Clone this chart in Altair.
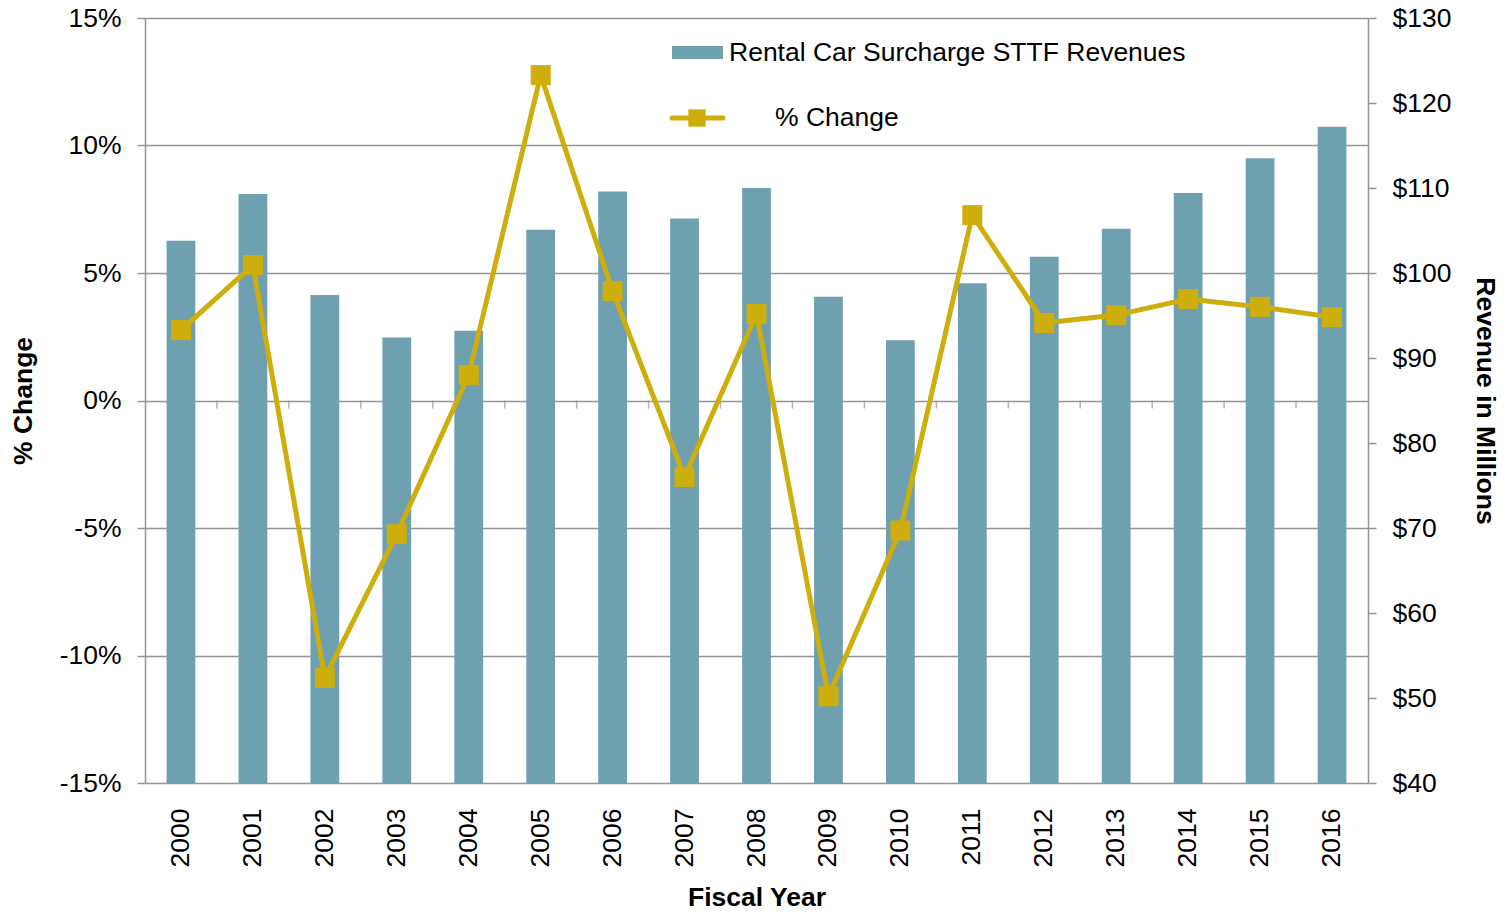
import altair as alt
import pandas as pd

years = [str(y) for y in range(2000, 2017)]
revenue = [103.8, 109.3, 97.4, 92.4, 93.2, 105.1, 109.6, 106.4, 110.0,
           97.2, 92.1, 98.8, 101.9, 105.2, 109.4, 113.5, 117.2]
pct_change = [2.76, 5.31, -10.88, -5.24, 1.0, 12.76, 4.29, -3.0, 3.39,
              -11.6, -5.1, 7.27, 3.04, 3.35, 3.98, 3.67, 3.27]

df = pd.DataFrame({"Fiscal Year": years, "Revenue": revenue, "Pct": pct_change})

BAR = "#6FA0B0"
GOLD = "#CDAE0C"
GRID = "#959595"
FONT = "Liberation Sans"
LFS = 26.5
TFS = 26.5

pct_scale = alt.Scale(domain=[-15, 15], nice=False)

xscale = alt.Scale(paddingInner=0, paddingOuter=0)
xenc = alt.X("Fiscal Year:N", scale=xscale,
             axis=alt.Axis(title="Fiscal Year", labelAngle=-90, ticks=False,
                           labelPadding=25, titlePadding=18, domain=False,
                           labelFontSize=LFS, titleFontSize=TFS, labelBaseline="middle",
                           labelAlign="right"))

bars = alt.Chart(df).mark_bar(width=alt.RelativeBandSize(0.4), color=BAR, clip=True).encode(
    x=xenc,
    y=alt.Y("Revenue:Q", scale=alt.Scale(domain=[40, 130], nice=False, zero=False),
            axis=alt.Axis(orient="right", title="Revenue in Millions",
                          values=list(range(40, 131, 10)),
                          labelExpr="'$' + datum.value", grid=False,
                          tickSize=8, tickColor=GRID, domainColor=GRID,
                          domainWidth=1.5, tickWidth=1.5,
                          labelPadding=16, titlePadding=20,
                          labelFontSize=LFS, titleFontSize=TFS)),
)

yleft = alt.Y("Pct:Q", scale=pct_scale,
              axis=alt.Axis(orient="left", title="% Change",
                            values=list(range(-15, 16, 5)),
                            labelExpr="datum.value + '%'", grid=True,
                            gridColor=GRID, gridWidth=1.5,
                            tickSize=8, tickColor=GRID, domainColor=GRID,
                            domainWidth=1.5, tickWidth=1.5,
                            labelPadding=16, titlePadding=22,
                            labelFontSize=LFS, titleFontSize=TFS))

grid_layer = alt.Chart(df).mark_point(opacity=0).encode(x="Fiscal Year:N", y=yleft)

zero_ticks = alt.Chart(df[df["Fiscal Year"] != "2000"]).transform_calculate(
    zero="0"
).mark_tick(
    orient="vertical", size=8, thickness=1.5, color=GRID, yOffset=4
).encode(
    x=alt.X("Fiscal Year:N", bandPosition=0),
    y=alt.Y("zero:Q", scale=pct_scale, axis=None),
)

line = alt.Chart(df).mark_line(color=GOLD, strokeWidth=5).encode(
    x="Fiscal Year:N", y=alt.Y("Pct:Q", scale=pct_scale, axis=None)
)
points = alt.Chart(df).mark_point(shape="square", filled=True, size=400, color=GOLD, opacity=1).encode(
    x="Fiscal Year:N", y=alt.Y("Pct:Q", scale=pct_scale, axis=None)
)

one = pd.DataFrame({"k": [0]})
leg_rect = alt.Chart(one).mark_rect(color=BAR).encode(
    x=alt.value(527), x2=alt.value(578), y=alt.value(28), y2=alt.value(41))
leg_text1 = alt.Chart(one).mark_text(text="Rental Car Surcharge STTF Revenues", align="left",
                                     baseline="middle", fontSize=LFS, font=FONT, color="black").encode(
    x=alt.value(584), y=alt.value(35))
leg_line = alt.Chart(one).mark_rule(color=GOLD, strokeWidth=5, strokeCap="round").encode(
    x=alt.value(527), x2=alt.value(578), y=alt.value(100))
leg_sq = alt.Chart(one).mark_point(shape="square", filled=True, size=300, color=GOLD, opacity=1).encode(
    x=alt.value(552), y=alt.value(100))
leg_text2 = alt.Chart(one).mark_text(text="% Change", align="left", baseline="middle",
                                     fontSize=LFS, font=FONT, color="black").encode(
    x=alt.value(630), y=alt.value(100))

chart = alt.layer(
    grid_layer, bars, zero_ticks, line, points,
    leg_rect, leg_text1, leg_line, leg_sq, leg_text2
).resolve_scale(y="independent").properties(
    width=1223, height=765,
    autosize=alt.AutoSizeParams(type="none"),
    padding={"left": 137, "top": 10, "right": 132, "bottom": 128},
).configure_view(stroke=None).configure_axis(
    labelFont=FONT, titleFont=FONT, labelColor="black", titleColor="black",
    titleFontWeight="bold",
)

chart.save("out.html", embed_options={"renderer": "svg", "actions": False})
